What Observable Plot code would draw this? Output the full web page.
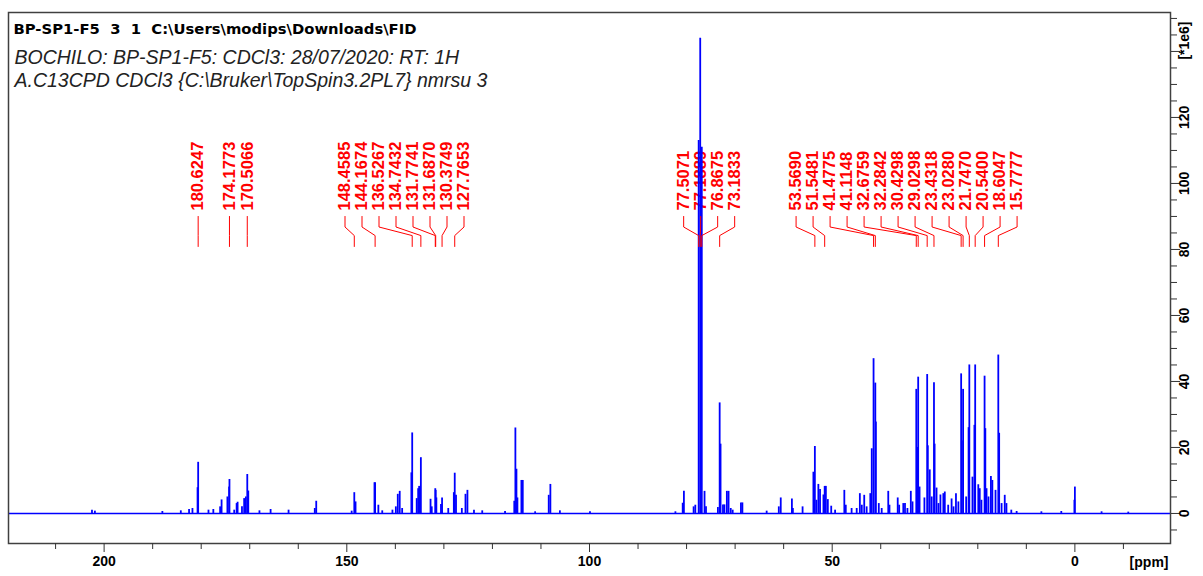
<!DOCTYPE html>
<html><head><meta charset="utf-8">
<script src="https://cdn.jsdelivr.net/npm/d3@7"></script>
<script src="https://cdn.jsdelivr.net/npm/@observablehq/plot@0.6"></script>
<style>html,body{margin:0;padding:0;background:#fff} svg{display:block}</style>
</head><body><div id="chart"></div>
<script>
// ---------- data ----------
const titleLines = [
  "BP-SP1-F5\u00a0 3\u00a0 1\u00a0 C:\\Users\\modips\\Downloads\\FID",
  "BOCHILO: BP-SP1-F5: CDCl3: 28/07/2020: RT: 1H",
  "A.C13CPD CDCl3 {C:\\Bruker\\TopSpin3.2PL7} nmrsu 3"
];
// [ppm, intensity (x1e6)]
const carbonylPeaks = [
  [202.5,1.0],[201.9,0.7],[188.0,0.6],[184.2,0.8],[182.5,1.2],[181.8,1.5],[180.75,7.8],[180.6247,15.5],
  [178.5,1.0],[177.5,1.2],[176.1,2.0],[175.8,4.1],[174.6,5.0],[174.25,8.0],[174.1773,10.3],[173.2,1.0],
  [172.7,3.0],[172.5,3.4],[171.6,2.0],[171.15,4.5],[170.8,5.0],[170.5066,11.8],[170.3,6.8],[168.0,0.8],
  [165.7,1.2],[162.0,1.0]
];
const aromaticPeaks = [
  [156.6,1.5],[156.3,3.7],[149.0,0.7],[148.4585,6.3],[148.2,3.5],[144.3,9.3],[144.1674,9.3],[143.5,2.5],
  [142.7,0.8],[140.6,1.0],[139.9,2.0],[139.5,5.8],[139.1,6.7],[138.6,1.5],[136.7,12.3],[136.5267,24.4],
  [135.6,4.5],[135.3,7.5],[135.1,8.2],[134.7432,16.9],[132.75,4.3],[132.5,2.0],[131.7741,7.5],[131.687,7.0],
  [131.55,4.7],[130.6,2.7],[130.3749,4.7],[129.1,1.5],[127.95,6.3],[127.7653,12.2],[127.5,5.5],[126.3,1.5],
  [125.55,5.8],[125.15,7.0],[123.8,1.0],[122.1,0.8],[117.4,0.6],[115.5,3.7],[115.27,25.9],[115.05,13.4],
  [114.85,4.7],[114.03,10.0],[113.75,10.0],[111.2,0.5],[108.4,5.5],[108.06,8.8],[106.1,0.8],[99.9,0.5]
];
const oxygenatedPeaks = [
  [82.3,0.5],[80.8,3.1],[80.55,6.7],[78.55,2.0],[78.2,2.5],[77.5071,113],[77.1889,144],[76.8675,111],
  [76.3,6.7],[76.0,2.0],[73.55,1.8],[73.1833,33.5],[73.0,21],[72.5,2.6],[72.2,2.6],[71.7,6.7],[71.35,6.7],
  [70.9,1.5],[70.5,1.0],[68.8,3.2],[68.5,3.2],[63.5,0.7],[61.0,2.0],[60.6,4.7],[58.3,4.4],[58.1,1.5],[56.1,2.0]
];
const aliphaticPeaks = [
  [53.87,12.5],[53.569,20.3],[53.25,4.0],[52.85,8.8],[52.5,7.3],[51.8,5.6],[51.5481,8.2],[51.3,8.2],
  [50.9,4.2],[50.2,2.2],[49.4,1.0],[47.5,7.0],[47.2,2.5],[46.0,1.5],[44.95,1.5],[44.3,6.0],[43.9,2.5],
  [43.4,5.5],[42.9,2.0],[42.15,6.0],[41.85,19.6],[41.4775,46.9],[41.1148,39.5],[41.0,27.7],[40.4,3.0],
  [39.8,1.5],[38.45,6.7],[38.2,2.5],[36.5,4.7],[36.2,2.5],[35.35,3.0],[35.0,3.0],[34.5,1.5],[33.8,6.7],
  [33.45,3.5],[32.6759,37.6],[32.45,20],[32.2842,41.3],[32.0,8.0],[31.0,4.7],[30.4298,42.1],[30.3,20.5],
  [29.9,13.2],[29.5,5.0],[29.0298,39.6],[28.9,21],[28.5,7.7],[28.1,3.0],[27.7,5.6],[27.1,6.0],[26.8,6.5],
  [26.1,2.5],[25.4,4.4],[25.0,2.0],[24.5,6.0],[24.0,3.5],[23.4318,42.3],[23.3,22],[23.028,37.6],[22.4,5.0],
  [21.9,26],[21.747,45],[21.1,11],[20.7,26.7],[20.54,45],[19.9,8.7],[19.6,7.5],[19.25,4.0],[18.6047,41.6],
  [18.45,25.7],[18.2,7.5],[17.8,5.0],[17.3,11.2],[17.0,10.0],[16.35,7.0],[15.7777,48],[15.6,24.3],[15.1,3.0],
  [14.45,5.5],[14.1,3.0],[13.1,1.0],[12.0,0.6],[6.9,0.5],[2.8,0.6],[0.1,4.0],[0.0,8.0],[-5.5,0.5],[-11.0,0.4]
];
const peakLabels = [
  "180.6247","174.1773","170.5066","148.4585","144.1674","136.5267","134.7432","131.7741","131.6870",
  "130.3749","127.7653","77.5071","77.1889","76.8675","73.1833","53.5690","51.5481","41.4775","41.1148",
  "32.6759","32.2842","30.4298","29.0298","23.4318","23.0280","21.7470","20.5400","18.6047","15.7777"
];
const xTickLabels = [200, 150, 100, 50, 0];
const yTickLabels = [0, 20, 40, 60, 80, 100, 120];
const xUnit = "[ppm]";
const yUnit = "[*1e6]";

// ---------- layout ----------
const W = 1203, H = 576;
const M = {top: 12, right: 33, bottom: 33, left: 8};
const xDomain = [219.7, -19.7];
const yDomain = [-9.1, 151.8];
const xs = d3.scaleLinear().domain(xDomain).range([M.left, W - M.right]);

const peaks = [...carbonylPeaks, ...aromaticPeaks, ...oxygenatedPeaks, ...aliphaticPeaks]
  .map(([ppm, h]) => ({ppm, h}));

// label placement: spread overlapping labels (17 px apart), centred on the span of their peaks
const S = 17;
const labs = peakLabels.map(t => ({text: t, ppm: +t, px: xs(+t)})).sort((a, b) => a.px - b.px);
let clusters = labs.map(l => ({items: [l]}));
function place(c) {
  const lo = c.items[0].px, hi = c.items[c.items.length - 1].px, n = c.items.length;
  c.start = (lo + hi) / 2 - (n - 1) * S / 2;
  c.end = c.start + (n - 1) * S;
}
clusters.forEach(place);
let merged = true;
while (merged) {
  merged = false;
  for (let i = 0; i < clusters.length - 1; i++) {
    if (clusters[i + 1].start < clusters[i].end + S - 0.01) {
      clusters[i].items = clusters[i].items.concat(clusters[i + 1].items);
      clusters.splice(i + 1, 1);
      place(clusters[i]);
      merged = true;
      break;
    }
  }
}
clusters.forEach(c => c.items.forEach((l, i) => { l.lppm = xs.invert(c.start + i * S); }));

const leaders = [];
labs.forEach((l, i) => {
  leaders.push({id: i, x: l.lppm, y: 90.0});
  leaders.push({id: i, x: l.lppm, y: 86.8});
  leaders.push({id: i, x: l.ppm, y: 84.2});
  leaders.push({id: i, x: l.ppm, y: 80.9});
});

const minorX = d3.range(-10, 220, 10).filter(d => d % 50 !== 0);
const minorY = d3.range(-5, 151, 5).filter(d => d % 20 !== 0);
const majorY = d3.range(0, 151, 20);
const axisColor = "#333";

const chart = Plot.plot({
  width: W, height: H,
  marginTop: M.top, marginRight: M.right, marginBottom: M.bottom, marginLeft: M.left,
  x: {domain: xDomain},
  y: {domain: yDomain},
  style: {fontFamily: "'Liberation Sans', Arial, sans-serif", fontSize: "14px", background: "#fff", color: "#000"},
  marks: [
    // titles inside the frame
    Plot.text([titleLines[0]], {frameAnchor: "top-left", dx: 5, dy: 21, lineAnchor: "bottom", textAnchor: "start",
      text: d => d, fontFamily: "'DejaVu Sans', sans-serif", fontWeight: "bold", fontSize: 14.8, fill: "#000"}),
    Plot.text([titleLines[1]], {frameAnchor: "top-left", dx: 6, dy: 51, lineAnchor: "bottom", textAnchor: "start",
      text: d => d, fontStyle: "italic", fontWeight: "normal", fontSize: 19.5, fill: "#222"}),
    Plot.text([titleLines[2]], {frameAnchor: "top-left", dx: 6, dy: 74, lineAnchor: "bottom", textAnchor: "start",
      text: d => d, fontStyle: "italic", fontWeight: "normal", fontSize: 19.5, fill: "#222"}),
    // peak labels
    Plot.text(labs, {x: "lppm", y: 91.8, text: "text", rotate: -90, textAnchor: "start", lineAnchor: "middle",
      fill: "#ff0000", fontSize: 16.5, fontWeight: "bold"}),
    // spectrum
    Plot.ruleY([0], {stroke: "#0000ff", strokeWidth: 1.5}),
    Plot.ruleX(peaks, {x: "ppm", y1: 0, y2: "h", stroke: "#0000ff", strokeWidth: 1.8}),
    // leader lines
    Plot.line(leaders, {x: "x", y: "y", z: "id", stroke: "#ff0000", strokeWidth: 1, curve: "linear"}),
    // frame & axes
    Plot.frame({stroke: "#404040", strokeWidth: 1.5}),
    Plot.axisX({ticks: minorX, tickSize: 6, tickFormat: () => "", label: null, stroke: axisColor}),
    Plot.axisX({ticks: xTickLabels, tickSize: 9, tickPadding: 4, tickFormat: d => String(d), label: null,
      stroke: axisColor, fontSize: 14, fontWeight: "bold", fill: "#000"}),
    Plot.axisY({anchor: "right", ticks: minorY, tickSize: 6, tickFormat: () => "", label: null, stroke: axisColor}),
    Plot.axisY({anchor: "right", ticks: majorY, tickSize: 9, tickFormat: () => "", label: null, stroke: axisColor}),
    Plot.text(yTickLabels, {y: d => d, frameAnchor: "right", dx: 14, rotate: -90, textAnchor: "middle",
      lineAnchor: "middle", text: d => String(d), fontSize: 14, fontWeight: "bold", fill: "#000"}),
    Plot.text([yUnit], {y: 143.3, frameAnchor: "right", dx: 14, rotate: -90, textAnchor: "middle",
      lineAnchor: "middle", text: d => d, fontSize: 14, fontWeight: "bold", fill: "#000"}),
    Plot.text([xUnit], {frameAnchor: "bottom-right", dx: -2, dy: 19, textAnchor: "end", lineAnchor: "middle",
      text: d => d, fontSize: 14, fontWeight: "bold", fill: "#000"})
  ]
});
document.getElementById("chart").appendChild(chart);
</script>
</body></html>
